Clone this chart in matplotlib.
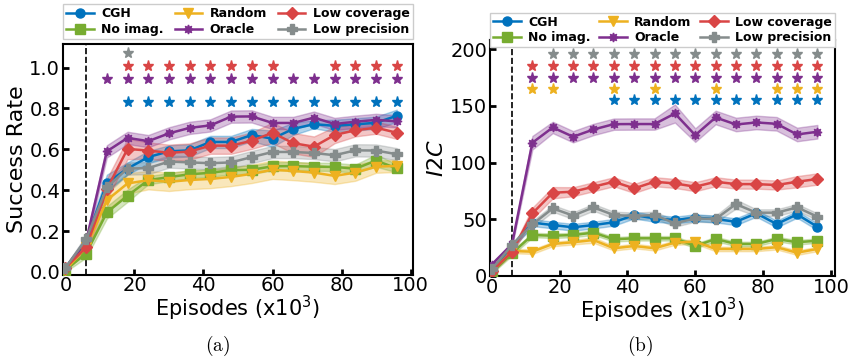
import numpy as np
import matplotlib
matplotlib.use("Agg")
import matplotlib.pyplot as plt

plt.rcParams['mathtext.fontset'] = 'dejavusans'

# x axis: episodes (x10^3)
episodes = [0, 6, 12, 18, 24, 30, 36, 42, 48, 54, 60, 66, 72, 78, 84, 90, 96]

# ---- (a) success rate ----
sr_cgh = [0.02, 0.15, 0.436, 0.506, 0.562, 0.59, 0.595, 0.636, 0.636, 0.670, 0.652, 0.70, 0.723, 0.715, 0.722, 0.73, 0.764]
sr_noimag = [0.01, 0.09, 0.291, 0.373, 0.449, 0.464, 0.478, 0.485, 0.498, 0.500, 0.517, 0.518, 0.515, 0.514, 0.505, 0.545, 0.507]
sr_random = [0.01, 0.12, 0.351, 0.433, 0.449, 0.441, 0.45, 0.455, 0.465, 0.48, 0.50, 0.494, 0.486, 0.47, 0.486, 0.515, 0.519]
sr_oracle = [0.02, 0.15, 0.59, 0.656, 0.64, 0.678, 0.705, 0.717, 0.76, 0.761, 0.729, 0.729, 0.755, 0.724, 0.735, 0.744, 0.737]
sr_lowcov = [0.02, 0.12, 0.405, 0.602, 0.594, 0.583, 0.589, 0.618, 0.618, 0.642, 0.681, 0.630, 0.613, 0.670, 0.693, 0.706, 0.681]
sr_lowprec = [0.02, 0.16, 0.414, 0.506, 0.508, 0.54, 0.536, 0.532, 0.536, 0.562, 0.587, 0.587, 0.582, 0.571, 0.595, 0.594, 0.576]

sr_cgh_sd = [0.01, 0.02, 0.04, 0.03, 0.03, 0.03, 0.03, 0.03, 0.03, 0.03, 0.04, 0.03, 0.02, 0.03, 0.03, 0.03, 0.03]
sr_noimag_sd = [0.01, 0.02, 0.03, 0.03, 0.02, 0.02, 0.02, 0.02, 0.02, 0.02, 0.02, 0.02, 0.02, 0.02, 0.02, 0.03, 0.02]
sr_random_sd = [0.01, 0.02, 0.05, 0.05, 0.045, 0.045, 0.045, 0.045, 0.045, 0.045, 0.045, 0.045, 0.045, 0.04, 0.04, 0.03, 0.03]
sr_oracle_sd = [0.01, 0.02, 0.03, 0.03, 0.03, 0.03, 0.03, 0.03, 0.03, 0.03, 0.03, 0.03, 0.03, 0.03, 0.03, 0.03, 0.03]
sr_lowcov_sd = [0.01, 0.02, 0.05, 0.05, 0.04, 0.04, 0.04, 0.04, 0.04, 0.04, 0.05, 0.05, 0.05, 0.04, 0.03, 0.03, 0.03]
sr_lowprec_sd = [0.01, 0.02, 0.03, 0.03, 0.03, 0.03, 0.03, 0.03, 0.03, 0.03, 0.03, 0.03, 0.03, 0.03, 0.03, 0.03, 0.03]

# ---- (b) I2C ----
i2c_cgh = [5, 26, 47, 44.9, 42.9, 44.9, 47.3, 53.7, 50.8, 49.3, 51.4, 50.2, 47.8, 55.2, 45.8, 54.3, 43.4]
i2c_noimag = [3, 20, 36.1, 35.5, 36.1, 38.2, 32.3, 33.2, 33.2, 33.2, 26.4, 32.6, 28.2, 28.2, 32.6, 29.7, 31.1]
i2c_random = [4, 22, 21.4, 28.2, 29.7, 31.7, 24.4, 26.4, 24.4, 29.4, 30.2, 23.8, 23.8, 23.8, 25.3, 20.5, 23.8]
i2c_oracle = [10, 28, 117.5, 131, 122.8, 129.2, 133.9, 134, 134, 143.3, 124.2, 139.8, 133.6, 135.4, 134.2, 124.8, 127.2]
i2c_lowcov = [4, 21.4, 55.2, 73.4, 74.3, 78.7, 83.1, 77.2, 83.1, 81.6, 78.7, 83.1, 81, 81, 80.2, 83.1, 85.5]
i2c_lowprec = [6, 27.3, 45.5, 59.6, 53.2, 60.5, 53.7, 52.9, 53.7, 46.4, 50.8, 50.2, 63.4, 55.8, 55.8, 60.5, 52.3]

i2c_cgh_sd = [1, 2, 3, 3, 3, 3, 3, 3, 3, 3, 3, 3, 3, 3, 3, 3, 3]
i2c_noimag_sd = [1, 2, 2, 2, 2, 2, 2, 2, 2, 2, 2, 2, 2, 2, 2, 2, 2]
i2c_random_sd = [1, 2, 2, 2, 2, 2.5, 2, 2, 2, 2, 2, 2, 2, 2, 2, 2, 2]
i2c_oracle_sd = [1, 2, 6, 5, 5, 5, 5, 5, 5, 8, 6, 6, 6, 6, 6, 6, 6]
i2c_lowcov_sd = [1, 2, 5, 5, 4, 4, 4, 4, 4, 4, 4, 4, 4, 4, 4, 5, 5]
i2c_lowprec_sd = [1, 2, 3, 3, 3, 3, 3, 3, 3, 3, 3, 3, 4, 3, 3, 3, 3]

# significance stars (episodes where marked)
sig_a_lowprec = [18]
sig_a_lowcov = [18, 24, 30, 36, 42, 48, 54, 60, 78, 84, 90, 96]
sig_a_oracle = [12, 18, 24, 30, 36, 42, 48, 54, 60, 66, 72, 78, 84, 90, 96]
sig_a_cgh = [18, 24, 30, 36, 42, 48, 54, 60, 66, 72, 78, 84, 90, 96]

sig_b_lowprec = [18, 24, 30, 36, 42, 48, 54, 60, 66, 72, 78, 84, 90, 96]
sig_b_lowcov = [12, 18, 24, 30, 36, 42, 48, 54, 60, 66, 72, 78, 84, 90, 96]
sig_b_oracle = [12, 18, 24, 30, 36, 42, 48, 54, 60, 66, 72, 78, 84, 90, 96]
sig_b_random = [12, 18, 36, 48, 66, 84, 90, 96]
sig_b_cgh = [36, 42, 48, 54, 60, 66, 72, 78, 84, 90, 96]

labels = ['CGH', 'No imag.', 'Random', 'Oracle', 'Low coverage', 'Low precision']
colors = ['#0072BD', '#77AC30', '#EDB120', '#7E2F8E', '#D94545', '#858c8c']
markers = ['o', 's', 'v', (8, 1, 0), 'D', 'P']


def draw_panel(ax, means, sds):
    x = np.array(episodes)
    # draw order so purple/red sit on top like the original
    for i in [2, 1, 5, 0, 4, 3]:
        m = np.array(means[i])
        s = np.array(sds[i])
        ax.fill_between(x, m - s, m + s, color=colors[i], alpha=0.3, linewidth=1)
        ax.plot(x, m, color=colors[i], marker=markers[i], markersize=6.5,
                linewidth=1.8, label=labels[i], zorder=3 + i * 0.1)
    ax.axvline(6, color='k', linestyle='--', linewidth=1.2)


def stars(ax, eps, level, color):
    ax.plot(eps, [level] * len(eps), linestyle='none', marker='*',
            markersize=8, color=color)


def style(ax, leg_y):
    ax.tick_params(direction='in', length=4, width=2, labelsize=14, pad=2)
    ax.tick_params(axis='x', pad=1)
    for sp in ax.spines.values():
        sp.set_linewidth(1.5)
    ax.set_xticks([0, 20, 40, 60, 80, 100])
    ax.set_xlabel('Episodes (x10$^3$)', fontsize=15, labelpad=-1)
    handles, labs = ax.get_legend_handles_labels()
    order = [labs.index(l) for l in labels]
    ax.legend([handles[k] for k in order], labels, ncol=3, mode='expand',
              loc='lower left', bbox_to_anchor=(0, leg_y, 1, 0.13),
              prop={'weight': 'bold', 'size': 9}, framealpha=1,
              borderaxespad=0, handlelength=2.2, handletextpad=0.6,
              labelspacing=0.2, borderpad=0.25, fancybox=False,
              columnspacing=0.5)


fig = plt.figure(figsize=(8.48, 3.57), dpi=100)
ax1 = fig.add_axes([0.0743, 0.2297, 0.4127, 0.648])
ax2 = fig.add_axes([0.5778, 0.2255, 0.4069, 0.662])

draw_panel(ax1, [sr_cgh, sr_noimag, sr_random, sr_oracle, sr_lowcov, sr_lowprec],
           [sr_cgh_sd, sr_noimag_sd, sr_random_sd, sr_oracle_sd, sr_lowcov_sd, sr_lowprec_sd])
stars(ax1, sig_a_lowprec, 1.07, colors[5])
stars(ax1, sig_a_lowcov, 1.01, colors[4])
stars(ax1, sig_a_oracle, 0.945, colors[3])
stars(ax1, sig_a_cgh, 0.83, colors[0])
ax1.set_xlim(-0.7, 100.7)
ax1.set_ylim(-0.015, 1.117)
ax1.set_yticks([0.0, 0.2, 0.4, 0.6, 0.8, 1.0])
ax1.set_ylabel('Success Rate', fontsize=16, labelpad=2)
style(ax1, 1.02)

draw_panel(ax2, [i2c_cgh, i2c_noimag, i2c_random, i2c_oracle, i2c_lowcov, i2c_lowprec],
           [i2c_cgh_sd, i2c_noimag_sd, i2c_random_sd, i2c_oracle_sd, i2c_lowcov_sd, i2c_lowprec_sd])
stars(ax2, sig_b_lowprec, 195.5, colors[5])
stars(ax2, sig_b_lowcov, 185, colors[4])
stars(ax2, sig_b_oracle, 175, colors[3])
stars(ax2, sig_b_random, 165, colors[2])
stars(ax2, sig_b_cgh, 155, colors[0])
ax2.set_xlim(-0.5, 101.2)
ax2.set_ylim(-0.5, 208)
ax2.set_yticks([0, 50, 100, 150, 200])
ax2.set_ylabel('$I2C$', fontsize=16, labelpad=2)
style(ax2, 0.97)

fig.text(218 / 848, 0.032, r'$\mathrm{(a)}$', ha='center', va='center', fontsize=14,
         math_fontfamily='cm')
fig.text(640 / 848, 0.032, r'$\mathrm{(b)}$', ha='center', va='center', fontsize=14,
         math_fontfamily='cm')

fig.savefig('out.png', dpi=100)
